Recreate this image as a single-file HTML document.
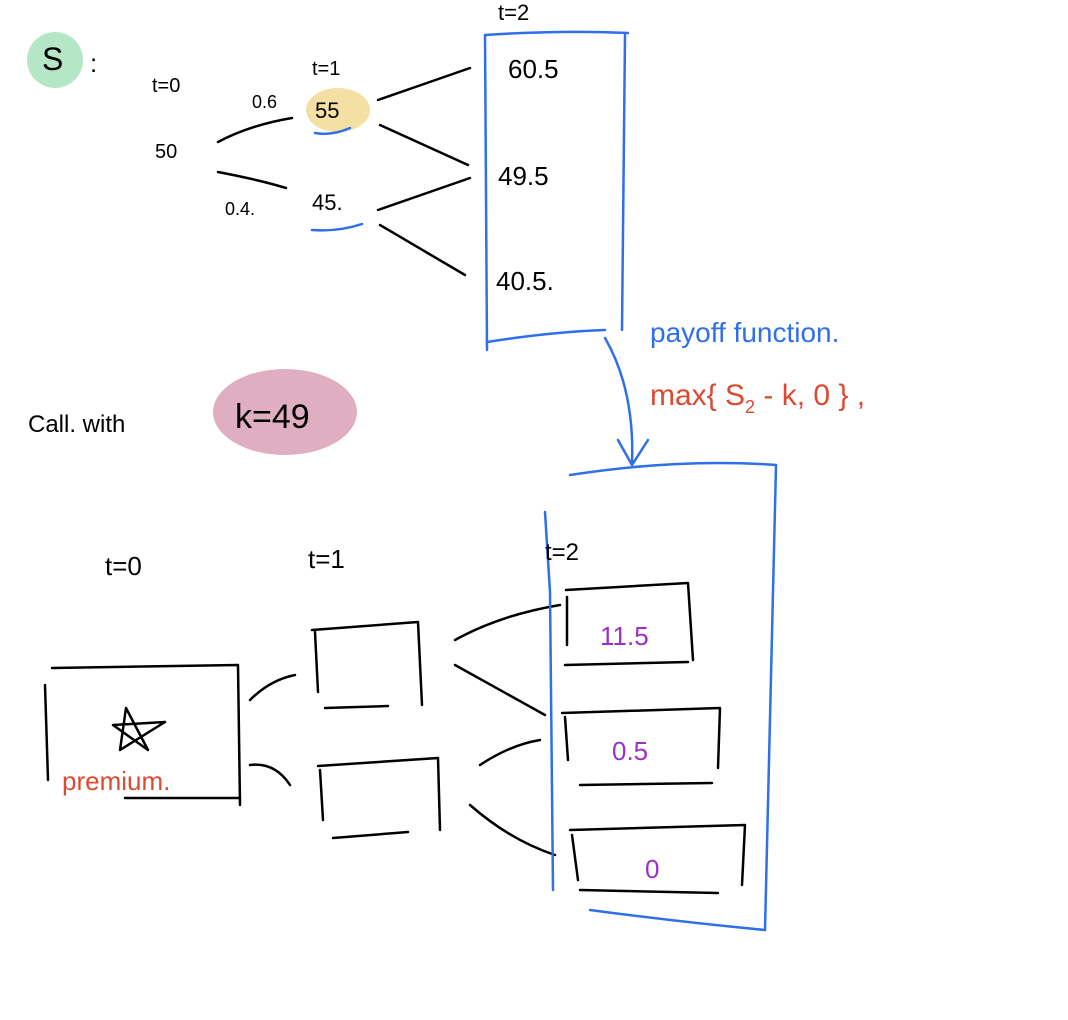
<!DOCTYPE html>
<html><head><meta charset="utf-8"><style>
html,body{margin:0;padding:0;background:#fff}
svg{display:block}
text{font-family:"Liberation Sans",sans-serif}
</style></head><body>
<svg width="1068" height="1020" viewBox="0 0 1068 1020" xmlns="http://www.w3.org/2000/svg">
<g fill="none" stroke-linecap="round" stroke-linejoin="round">
<circle cx="55" cy="60" r="28" fill="#b5e6c6" stroke="none"/>
<ellipse cx="338" cy="110" rx="32" ry="22" fill="#f4e0a3" stroke="none"/>
<ellipse cx="285" cy="412" rx="72" ry="43" fill="#dfaec1" stroke="none"/>
<g stroke="#000" stroke-width="2.5">
<path d="M218 142 Q250 125 292 118"/>
<path d="M218 172 Q260 180 286 188"/>
<path d="M378 100 L470 68"/>
<path d="M380 125 L468 165"/>
<path d="M378 210 L470 178"/>
<path d="M380 225 L465 275"/>
</g>
<g stroke="#2f6fe8" stroke-width="2.5">
<path d="M315 133 Q332 136 350 128"/>
<path d="M312 230 Q338 232 362 224"/>
<path d="M485 35 L487 350"/>
<path d="M625 35 L622 330"/>
<path d="M485 35 Q560 30 628 33"/>
<path d="M487 342 Q550 332 605 330"/>
<path d="M605 338 Q635 390 632 465"/>
<path d="M618 440 L632 465 L648 440"/>
</g>
<g stroke="#000" stroke-width="2.5">
<path d="M45 685 L48 780"/>
<path d="M52 668 L238 665 L240 805"/>
<path d="M125 798 L240 798"/>
<path d="M126 708 L148 750 L113 725 L165 722 L120 750 Z"/>
<path d="M315 632 L318 692"/>
<path d="M312 630 L418 622 L422 705"/>
<path d="M325 708 L388 706"/>
<path d="M320 770 L323 820"/>
<path d="M318 766 L438 758 L440 830"/>
<path d="M333 838 L408 832"/>
<path d="M250 700 Q270 680 295 675"/>
<path d="M250 765 Q275 762 290 785"/>
<path d="M455 640 Q500 615 560 605"/>
<path d="M455 665 Q500 690 545 715"/>
<path d="M480 765 Q510 745 540 740"/>
<path d="M470 805 Q510 840 555 855"/>
<path d="M567 597 L567 645"/>
<path d="M566 590 L688 583 L693 660"/>
<path d="M565 665 L688 662"/>
<path d="M565 717 L568 760"/>
<path d="M562 713 L720 708 L718 768"/>
<path d="M580 785 L712 783"/>
<path d="M572 835 L578 880"/>
<path d="M570 830 L745 825 L742 885"/>
<path d="M580 890 L718 893"/>
</g>
<g stroke="#2f6fe8" stroke-width="2.5">
<path d="M545 512 L550 592 L553 890"/>
<path d="M570 475 Q680 458 776 465"/>
<path d="M776 465 Q770 700 765 930"/>
<path d="M590 910 Q680 922 765 930"/>
</g>
</g>
<g font-size="26" fill="#000">
<text x="42" y="70" font-size="32">S</text>
<text x="90" y="72">:</text>
<text x="152" y="92" font-size="20">t=0</text>
<text x="155" y="158" font-size="20">50</text>
<text x="252" y="108" font-size="18">0.6</text>
<text x="312" y="75" font-size="20">t=1</text>
<text x="315" y="118" font-size="22">55</text>
<text x="225" y="215" font-size="18">0.4.</text>
<text x="312" y="210" font-size="22">45.</text>
<text x="498" y="20" font-size="22">t=2</text>
<text x="508" y="78">60.5</text>
<text x="498" y="185">49.5</text>
<text x="496" y="290">40.5.</text>
<text x="28" y="432" font-size="24">Call. with</text>
<text x="235" y="428" font-size="34">k=49</text>
<text x="105" y="575" font-size="26">t=0</text>
<text x="308" y="568" font-size="26">t=1</text>
<text x="545" y="560" font-size="24">t=2</text>
</g>
<text x="650" y="342" font-size="28" fill="#2f6fe8">payoff function.</text>
<text x="650" y="405" font-size="30" fill="#dc4a32">max{ S<tspan font-size="18" dy="8">2</tspan><tspan dy="-8"> - k, 0 } ,</tspan></text>
<text x="62" y="790" font-size="26" fill="#dc4a32">premium.</text>
<g fill="#9b30c8" font-size="26">
<text x="600" y="645">11.5</text>
<text x="612" y="760">0.5</text>
<text x="645" y="878">0</text>
</g>
</svg>
</body></html>
